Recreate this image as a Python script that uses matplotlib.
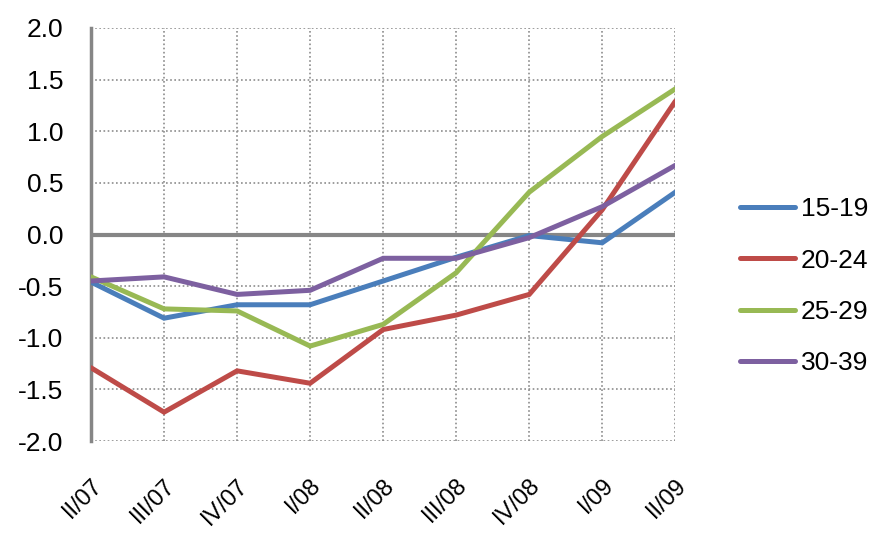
import numpy as np
import matplotlib.pyplot as plt

plt.rcParams['font.family'] = ['Liberation Sans', 'DejaVu Sans']

# quarters
quarters = ["II/07", "III/07", "IV/07", "I/08", "II/08", "III/08", "IV/08", "I/09", "II/09"]

# series values
age_15_19 = [-0.46, -0.81, -0.68, -0.68, -0.45, -0.22, -0.01, -0.08, 0.41]
age_20_24 = [-1.29, -1.72, -1.32, -1.44, -0.92, -0.78, -0.58, 0.24, 1.29]
age_25_29 = [-0.41, -0.72, -0.74, -1.08, -0.87, -0.37, 0.41, 0.95, 1.41]
age_30_39 = [-0.45, -0.41, -0.58, -0.54, -0.23, -0.23, -0.03, 0.27, 0.67]

series_names = ["15-19", "20-24", "25-29", "30-39"]
series_colors = ["#4A7EBB", "#BE4B48", "#98B954", "#7D60A0"]

fs = 19

fig = plt.figure(figsize=(8.72, 5.34), dpi=100)
ax = fig.add_axes([0.1044, 0.174, 0.6700, 0.7736])

x = np.arange(len(quarters))
for vals, name, col in zip([age_15_19, age_20_24, age_25_29, age_30_39],
                           series_names, series_colors):
    ax.plot(x, vals, color=col, lw=3.6, label=name, solid_capstyle='round',
            solid_joinstyle='miter', zorder=3)

# zero line
ax.axhline(0, color='#868686', lw=3, zorder=2)

ax.set_xlim(0, len(quarters) - 1)
ax.set_ylim(-2.0, 2.0)
yt = np.arange(-2.0, 2.01, 0.5)
ax.set_yticks(yt)
ax.set_yticklabels([f"{v:.1f}" for v in yt], fontsize=fs)
ax.set_xticks(x)
ax.set_xticklabels(quarters, fontsize=17, rotation=45, ha='right', va='top',
                   rotation_mode='anchor')

ax.grid(True, color='#8c8c8c', linestyle=(0, (1, 1.5)), lw=1.2, zorder=1)
ax.tick_params(length=0)
ax.tick_params(axis='y', pad=20)
ax.tick_params(axis='x', pad=24)

for s in ['top', 'right', 'bottom']:
    ax.spines[s].set_visible(False)
ax.spines['left'].set_color('#868686')
ax.spines['left'].set_linewidth(2.5)

handles, labels = ax.get_legend_handles_labels()
fig.legend(handles, labels, loc='center left', bbox_to_anchor=(0.8486, 0.464),
           frameon=False, fontsize=fs, handlelength=2.1, handletextpad=0.2,
           labelspacing=1.03, borderpad=0, borderaxespad=0)

fig.savefig("out.png", dpi=100)
